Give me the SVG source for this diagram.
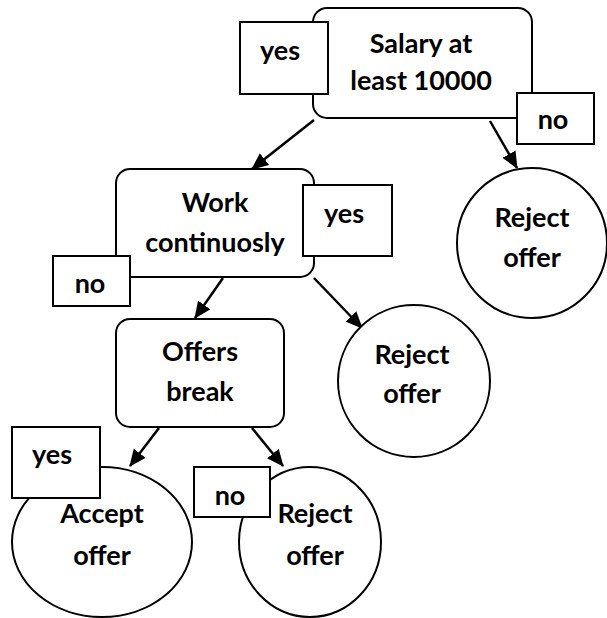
<svg xmlns="http://www.w3.org/2000/svg" width="607" height="618" viewBox="0 0 607 618">
<style>
.shape{fill:#fff;stroke:#000;stroke-width:2}
.lbl{fill:#fff;stroke:#000;stroke-width:2}
.edge{fill:none;stroke:#000;stroke-width:2.5}
text{font-family:Lato,"Liberation Sans",sans-serif;font-weight:bold;font-size:27px;fill:#000;text-anchor:middle}
</style>
<defs>
<marker id="arr" markerUnits="userSpaceOnUse" markerWidth="17" markerHeight="15" refX="16" refY="7.5" orient="auto">
<path d="M0,0 L17,7.5 L0,15 z" fill="#000"/>
</marker>
</defs>
<rect width="607" height="618" fill="#fff"/>
<g id="connectors">
<line class="edge" x1="314" y1="120" x2="252" y2="169" marker-end="url(#arr)"/>
<line class="edge" x1="490" y1="121" x2="517" y2="168" marker-end="url(#arr)"/>
<line class="edge" x1="223" y1="278" x2="195" y2="318" marker-end="url(#arr)"/>
<line class="edge" x1="314" y1="278" x2="362" y2="328" marker-end="url(#arr)"/>
<line class="edge" x1="159" y1="428" x2="130" y2="466" marker-end="url(#arr)"/>
<line class="edge" x1="252" y1="428" x2="283" y2="466" marker-end="url(#arr)"/>
</g>
<g id="salary">
<rect class="shape" x="313" y="8" width="219" height="110" rx="14"/>
<text x="421" y="53">Salary at</text>
<text x="421" y="90">least 10000</text>
</g>
<g id="yes1">
<rect class="lbl" x="240" y="22" width="88" height="72"/>
<text x="280" y="60">yes</text>
</g>
<g id="no1">
<rect class="lbl" x="517" y="93" width="77" height="51"/>
<text x="553" y="129">no</text>
</g>
<g id="reject1">
<circle class="shape" cx="532" cy="243" r="75"/>
<text x="532" y="227">Reject</text>
<text x="532" y="267">offer</text>
</g>
<g id="work">
<rect class="shape" x="116" y="169" width="198" height="108" rx="14"/>
<text x="215" y="212">Work</text>
<text x="215" y="252">continuosly</text>
</g>
<g id="yes2">
<rect class="lbl" x="303" y="185" width="89" height="71"/>
<text x="344" y="223">yes</text>
</g>
<g id="no2">
<rect class="lbl" x="53" y="256" width="77" height="50"/>
<text x="90" y="293">no</text>
</g>
<g id="reject2">
<circle class="shape" cx="414" cy="381" r="76"/>
<text x="412" y="364">Reject</text>
<text x="412" y="403">offer</text>
</g>
<g id="offers">
<rect class="shape" x="116" y="319" width="168" height="108" rx="14"/>
<text x="200" y="361">Offers</text>
<text x="200" y="401">break</text>
</g>
<g id="accept">
<ellipse class="shape" cx="102" cy="542" rx="90" ry="75"/>
<text x="102" y="523">Accept</text>
<text x="102" y="565">offer</text>
</g>
<g id="yes3">
<rect class="lbl" x="12" y="427" width="88" height="71"/>
<text x="52" y="464">yes</text>
</g>
<g id="reject3">
<ellipse class="shape" cx="310" cy="542" rx="71" ry="75"/>
<text x="315" y="523">Reject</text>
<text x="315" y="565">offer</text>
</g>
<g id="no3">
<rect class="lbl" x="194" y="467" width="76" height="50"/>
<text x="230" y="505">no</text>
</g>
</svg>
